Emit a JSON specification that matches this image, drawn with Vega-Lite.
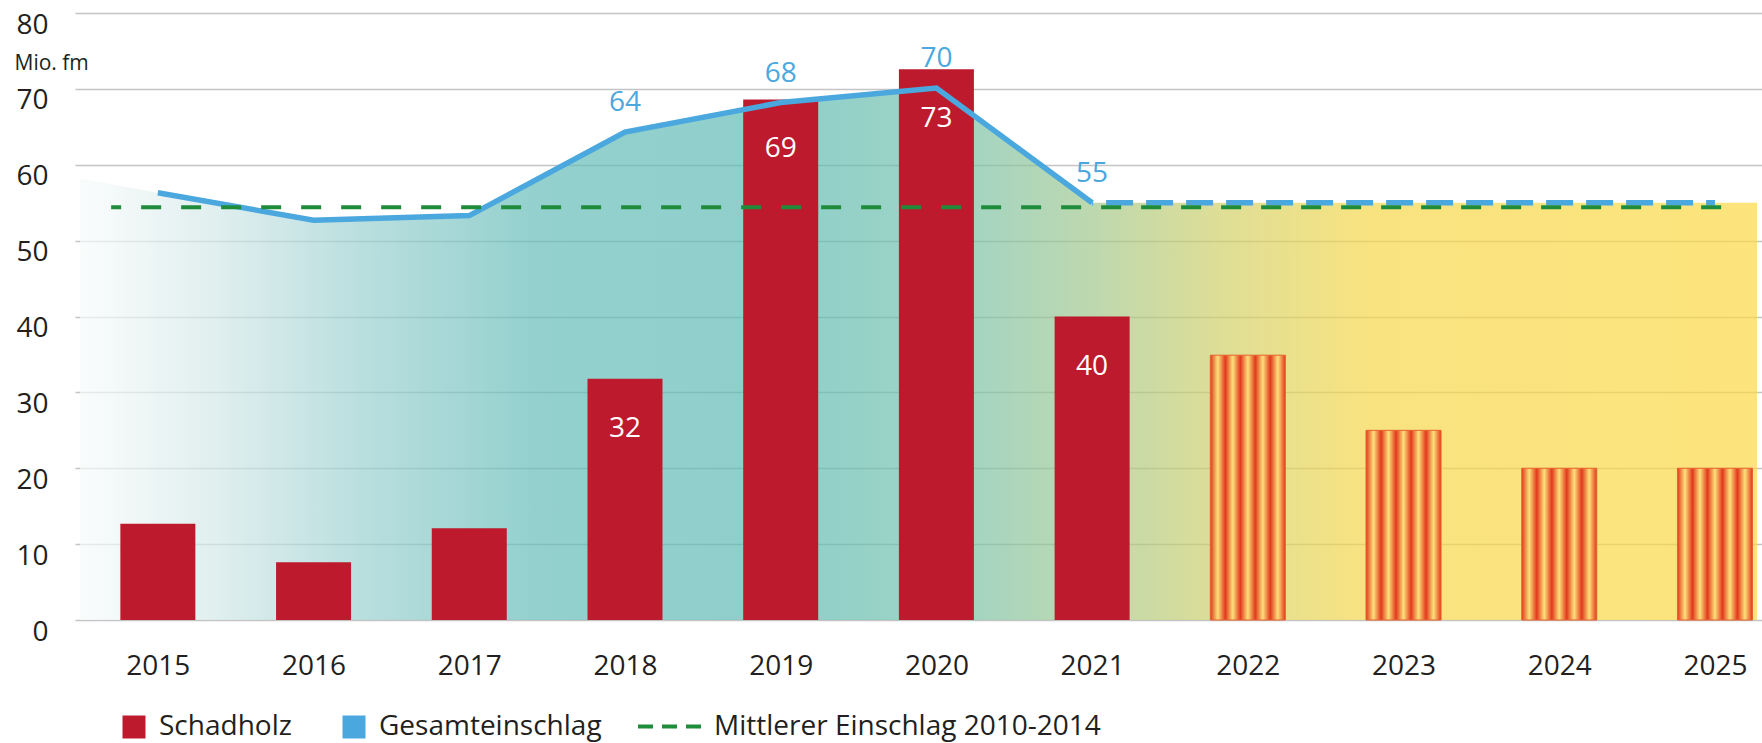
{
  "$schema": "https://vega.github.io/schema/vega-lite/v6.json",
  "autosize": {"type": "none"},
  "padding": {"left": 75, "top": 13, "right": 0, "bottom": 123},
  "width": 1687,
  "height": 607,
  "background": "white",
  "config": {
    "font": "Open Sans",
    "view": {"stroke": null},
    "axis": {"labelFont": "Open Sans", "labelColor": "#231f20", "domain": false, "ticks": false}
  },
  "datasets": {
    "schadholz": [
      {"year": 2015, "value": 12.7, "type": "Schadholz", "forecast": false, "label": null},
      {"year": 2016, "value": 7.6, "type": "Schadholz", "forecast": false, "label": null},
      {"year": 2017, "value": 12.1, "type": "Schadholz", "forecast": false, "label": null},
      {"year": 2018, "value": 31.8, "type": "Schadholz", "forecast": false, "label": "32"},
      {"year": 2019, "value": 68.6, "type": "Schadholz", "forecast": false, "label": "69"},
      {"year": 2020, "value": 72.6, "type": "Schadholz", "forecast": false, "label": "73"},
      {"year": 2021, "value": 40, "type": "Schadholz", "forecast": false, "label": "40"},
      {"year": 2022, "value": 34.9, "type": "Schadholz", "forecast": true, "label": null},
      {"year": 2023, "value": 25, "type": "Schadholz", "forecast": true, "label": null},
      {"year": 2024, "value": 20, "type": "Schadholz", "forecast": true, "label": null},
      {"year": 2025, "value": 20, "type": "Schadholz", "forecast": true, "label": null}
    ],
    "gesamt": [
      {"year": 2014.5, "value": 58.2, "label": null},
      {"year": 2015, "value": 56.3, "label": null},
      {"year": 2016, "value": 52.7, "label": null},
      {"year": 2017, "value": 53.3, "label": null},
      {"year": 2018, "value": 64.3, "label": "64"},
      {"year": 2019, "value": 68.2, "label": "68"},
      {"year": 2020, "value": 70.1, "label": "70"},
      {"year": 2021, "value": 55, "label": "55"},
      {"year": 2025, "value": 55, "label": null},
      {"year": 2025.27, "value": 55, "label": null}
    ],
    "mittel": [
      {"start": 2014.7, "end": 2025.16, "value": 54.4, "series": "Mittlerer Einschlag 2010-2014"}
    ]
  },
  "encoding": {
    "x": {
      "field": "year", "type": "quantitative",
      "scale": {"domain": [2014.5, 2025.27], "nice": false, "zero": false},
      "axis": {
        "title": null, "values": [2015, 2016, 2017, 2018, 2019, 2020, 2021, 2022, 2023, 2024, 2025],
        "format": "d", "grid": false, "labelFontSize": 28, "labelFlush": false, "labelOverlap": false,
        "labelBound": false, "labelBaseline": "middle", "labelPadding": 46
      }
    },
    "y": {
      "field": "value", "type": "quantitative",
      "scale": {"domain": [0, 80], "nice": false},
      "axis": {
        "title": "Mio. fm", "titleAngle": 0, "titleX": -61, "titleY": 50, "titleAlign": "left",
        "titleBaseline": "middle", "titleFontSize": 21, "titleFontWeight": "normal", "titleColor": "#231f20",
        "values": [0, 10, 20, 30, 40, 50, 60, 70, 80], "labelFontSize": 28, "labelOffset": 12,
        "labelPadding": 27, "labelBaseline": "middle", "grid": true, "gridColor": "#c4c4c4", "gridWidth": 1.5
      }
    }
  },
  "layer": [
    {
      "data": {"name": "gesamt"},
      "mark": {
        "type": "area", "opacity": 0.7,
        "color": {
          "gradient": "linear", "x1": 0, "y1": 0, "x2": 1, "y2": 0,
          "stops": [
            {"offset": 0, "color": "#f8fbfb"},
            {"offset": 0.08, "color": "#d4e8e8"},
            {"offset": 0.17, "color": "#9bd0d0"},
            {"offset": 0.27, "color": "#66bdb9"},
            {"offset": 0.42, "color": "#5ebab3"},
            {"offset": 0.52, "color": "#77c2ab"},
            {"offset": 0.6, "color": "#9fc78e"},
            {"offset": 0.68, "color": "#d0d069"},
            {"offset": 0.77, "color": "#f6d74a"},
            {"offset": 1, "color": "#fcd844"}
          ]
        }
      },
      "encoding": {}
    },
    {
      "data": {"name": "schadholz"},
      "transform": [{"filter": "!datum.forecast"}],
      "mark": {"type": "bar", "width": 75},
      "encoding": {
        "fill": {
          "field": "type", "type": "nominal",
          "scale": {"domain": ["Schadholz", "Gesamteinschlag"], "range": ["#be1a2e", "#4aa8de"]},
          "legend": {
            "title": null, "orient": "none", "direction": "horizontal", "legendX": 45, "legendY": 700,
            "symbolType": "square", "symbolSize": 529, "symbolStrokeWidth": 0, "labelFontSize": 28,
            "labelColor": "#231f20", "labelOffset": 11, "labelLimit": 0, "columnPadding": 48, "padding": 0
          }
        }
      }
    },
    {
      "data": {"name": "schadholz"},
      "transform": [{"filter": "datum.forecast"}],
      "mark": {
        "type": "bar", "width": 75, "stroke": "#e8612d", "strokeWidth": 1,
        "fill": {
          "gradient": "linear", "x1": 0, "y1": 0, "x2": 1, "y2": 0,
          "stops": [
            {"offset": 0, "color": "#e2391c"},
            {"offset": 0.1, "color": "#fde07a"},
            {"offset": 0.2, "color": "#e2391c"},
            {"offset": 0.3, "color": "#fde07a"},
            {"offset": 0.4, "color": "#e2391c"},
            {"offset": 0.5, "color": "#fde07a"},
            {"offset": 0.6, "color": "#e2391c"},
            {"offset": 0.7, "color": "#fde07a"},
            {"offset": 0.8, "color": "#e2391c"},
            {"offset": 0.9, "color": "#fde07a"},
            {"offset": 1, "color": "#e2391c"}
          ]
        }
      },
      "encoding": {}
    },
    {
      "data": {"name": "gesamt"},
      "transform": [{"filter": "datum.year >= 2015 && datum.year <= 2021"}],
      "mark": {"type": "line", "color": "#4aa8de", "strokeWidth": 5.5, "strokeJoin": "miter"},
      "encoding": {}
    },
    {
      "data": {"name": "gesamt"},
      "transform": [{"filter": "datum.year >= 2021 && datum.year <= 2025"}],
      "mark": {"type": "line", "color": "#4aa8de", "strokeWidth": 5.5, "strokeDash": [27, 13], "strokeDashOffset": 26},
      "encoding": {}
    },
    {
      "data": {"name": "mittel"},
      "mark": {"type": "rule", "strokeWidth": 4, "strokeDash": [20, 20], "strokeDashOffset": 10},
      "encoding": {
        "x": {"field": "start", "type": "quantitative"},
        "x2": {"field": "end"},
        "y": {"field": "value", "type": "quantitative"},
        "stroke": {
          "field": "series", "type": "nominal",
          "scale": {"domain": ["Mittlerer Einschlag 2010-2014"], "range": ["#1f8c3b"]},
          "legend": {
            "title": null, "orient": "none", "direction": "horizontal", "legendX": 561, "legendY": 680,
            "symbolType": "stroke", "symbolSize": 3969, "symbolStrokeWidth": 4, "symbolDash": [15, 9],
            "labelFontSize": 28, "labelColor": "#231f20", "labelOffset": 11, "labelLimit": 0, "padding": 0
          }
        }
      }
    },
    {
      "data": {"name": "gesamt"},
      "transform": [{"filter": "datum.label != null"}],
      "mark": {"type": "text", "color": "#4aa8de", "fontSize": 28, "dy": -29, "baseline": "middle"},
      "encoding": {"text": {"field": "label"}}
    },
    {
      "data": {"name": "schadholz"},
      "transform": [{"filter": "datum.label != null"}],
      "mark": {"type": "text", "color": "white", "fontSize": 28, "dy": 50, "baseline": "middle"},
      "encoding": {"text": {"field": "label"}}
    }
  ]
}
